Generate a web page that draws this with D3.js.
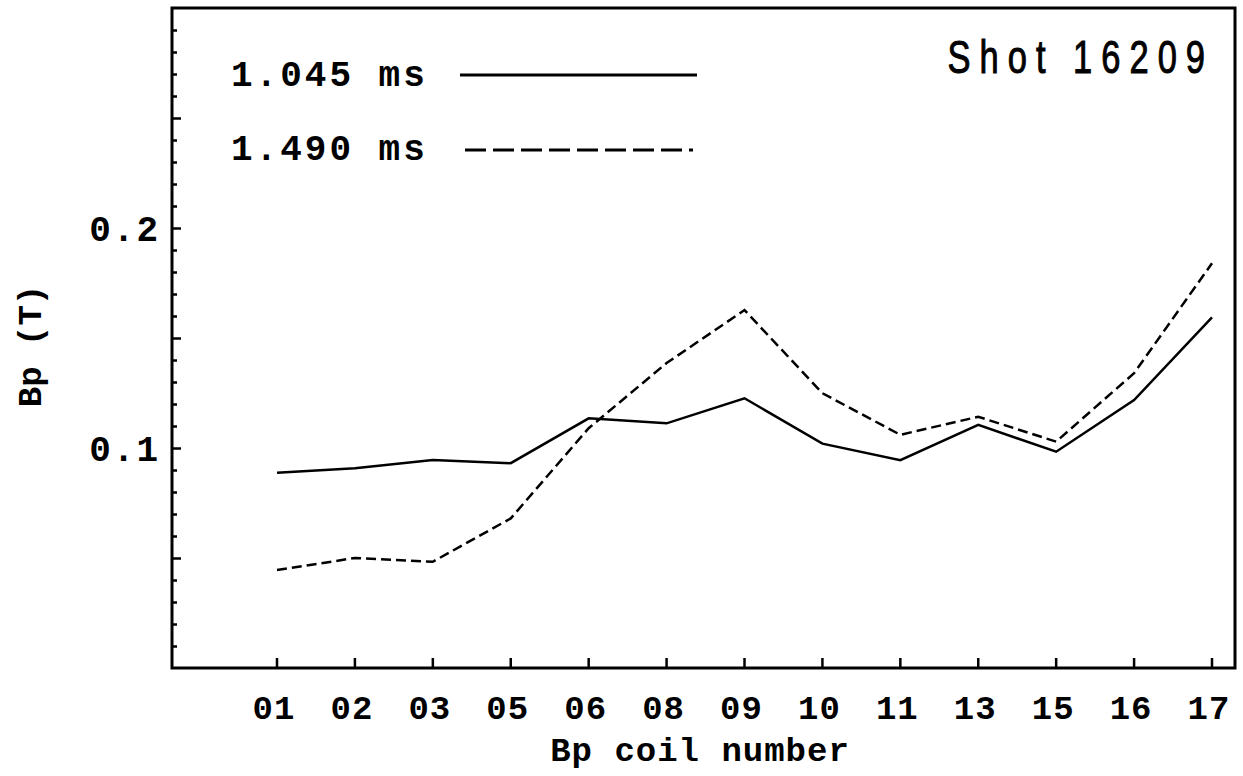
<!DOCTYPE html>
<html>
<head>
<meta charset="utf-8">
<script src="https://cdn.jsdelivr.net/npm/d3@7"></script>
<style>
  html, body { margin: 0; padding: 0; background: #fff; }
  svg { display: block; }
  .mono { font-family: "Liberation Mono", "DejaVu Sans Mono", monospace; font-weight: bold; fill: #000; }
</style>
</head>
<body>
<svg id="chart" width="1243" height="776"></svg>
<script>
// Bp coil labels along the x axis
const coils = ["01", "02", "03", "05", "06", "08", "09", "10", "11", "13", "15", "16", "17"];
// Poloidal field Bp (T) at each coil, two time slices
const bp1045 = [0.0888, 0.0908, 0.0945, 0.0931, 0.1135, 0.1112, 0.1226, 0.1020, 0.0945, 0.1105, 0.0983, 0.1218, 0.1594];
const bp1490 = [0.0445, 0.0500, 0.0483, 0.0680, 0.1090, 0.1386, 0.1627, 0.1249, 0.1060, 0.1142, 0.1029, 0.1340, 0.1840];
const yTickValues = [0.1, 0.2];
const yTickLabels = ["0.1", "0.2"];
const seriesNames = ["1.045 ms", "1.490 ms"];
const shotLabel = "Shot 16209";

const svg = d3.select("#chart");
const frame = { left: 172, right: 1235, top: 8, bottom: 668 };

const x = d3.scalePoint().domain(coils).range([277, 1212]);
const y = d3.scaleLinear().domain([0, 0.3]).range([frame.bottom, frame.top]);

// Minor ticks every 0.01, longer every 0.05, pointing into the plot
const minor = d3.range(1, 30).map(i => i / 100);
svg.append("g").selectAll("line").data(minor).join("line")
  .attr("x1", frame.left).attr("x2", d => frame.left + (Math.round(d * 100) % 5 === 0 ? 9 : 5))
  .attr("y1", d => Math.round(y(d)) + 0.5).attr("y2", d => Math.round(y(d)) + 0.5)
  .attr("stroke", "#000").attr("stroke-width", 2.5);

// Y tick labels
svg.append("g").selectAll("text").data(yTickValues).join("text")
  .attr("class", "mono")
  .attr("x", 160).attr("y", d => y(d))
  .attr("dy", "0.35em")
  .attr("text-anchor", "end")
  .attr("font-size", 36)
  .attr("letter-spacing", 2)
  .text((d, i) => yTickLabels[i]);

// X ticks (inward) and labels
svg.append("g").selectAll("line").data(coils).join("line")
  .attr("x1", d => x(d)).attr("x2", d => x(d))
  .attr("y1", frame.bottom).attr("y2", frame.bottom - 10)
  .attr("stroke", "#000").attr("stroke-width", 2.5);

svg.append("g").selectAll("text").data(coils).join("text")
  .attr("class", "mono")
  .attr("x", d => x(d) - 3).attr("y", 719)
  .attr("text-anchor", "middle")
  .attr("font-size", 34)
  .attr("letter-spacing", 1)
  .text(d => d);

// Axis titles
svg.append("text").attr("class", "mono")
  .attr("x", 700).attr("y", 761)
  .attr("text-anchor", "middle")
  .attr("font-size", 34)
  .attr("letter-spacing", 1)
  .text("Bp coil number");

svg.append("text").attr("class", "mono")
  .attr("transform", "translate(41,346) rotate(-90)")
  .attr("text-anchor", "middle")
  .attr("font-size", 34)
  .text("Bp (T)");

// Frame
svg.append("rect")
  .attr("x", frame.left).attr("y", frame.top)
  .attr("width", frame.right - frame.left).attr("height", frame.bottom - frame.top)
  .attr("fill", "none").attr("stroke", "#000").attr("stroke-width", 3);

// Series lines
const line = d3.line().x((d, i) => x(coils[i])).y(d => y(d));

svg.append("path").datum(bp1045)
  .attr("d", line)
  .attr("fill", "none").attr("stroke", "#000").attr("stroke-width", 2.5);

svg.append("path").datum(bp1490)
  .attr("d", line)
  .attr("fill", "none").attr("stroke", "#000").attr("stroke-width", 2.5)
  .attr("stroke-dasharray", "10,5");

// Legend
const legend = [
  { label: seriesNames[0], ty: 86, ly: 75, x1: 460, x2: 697, dash: null },
  { label: seriesNames[1], ty: 160, ly: 150, x1: 465, x2: 693, dash: "21,7" }
];
legend.forEach(l => {
  svg.append("text").attr("class", "mono")
    .attr("x", 231).attr("y", l.ty)
    .attr("font-size", 36)
    .attr("letter-spacing", 3)
    .text(l.label);
  svg.append("line")
    .attr("x1", l.x1).attr("x2", l.x2).attr("y1", l.ly).attr("y2", l.ly)
    .attr("stroke", "#000").attr("stroke-width", 3)
    .attr("stroke-dasharray", l.dash);
});

// Shot number, condensed sans
svg.append("text")
  .attr("transform", "translate(1214,73) scale(0.75,1)")
  .attr("text-anchor", "end")
  .attr("font-family", "'Liberation Sans', Arial, sans-serif")
  .attr("font-size", 46)
  .attr("letter-spacing", 12)
  .attr("fill", "#000")
  .attr("stroke", "#000")
  .attr("stroke-width", 1)
  .text(shotLabel);
</script>
</body>
</html>
